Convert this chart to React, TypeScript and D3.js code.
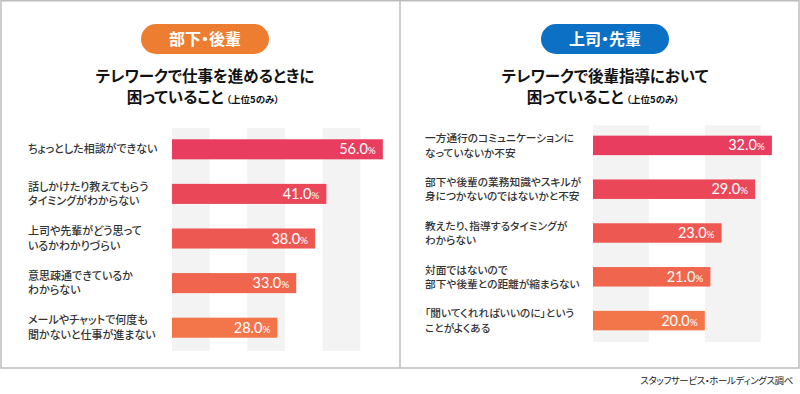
import React from "react";
import * as d3 from "d3";

const leftBadge = "部下・後輩";
const leftTitle1 = "テレワークで仕事を進めるときに";
const leftTitle2 = "困っていること";
const rightBadge = "上司・先輩";
const rightTitle1 = "テレワークで後輩指導において";
const rightTitle2 = "困っていること";
const subNote = "（上位5のみ）";
const credit = "スタッフサービス・ホールディングス調べ";

const leftLabels: string[][] = [
  ["ちょっとした相談ができない"],
  ["話しかけたり教えてもらう", "タイミングがわからない"],
  ["上司や先輩がどう思って", "いるかわかりづらい"],
  ["意思疎通できているか", "わからない"],
  ["メールやチャットで何度も", "聞かないと仕事が進まない"],
];
const leftValues = [56.0, 41.0, 38.0, 33.0, 28.0];

const rightLabels: string[][] = [
  ["一方通行のコミュニケーションに", "なっていないか不安"],
  ["部下や後輩の業務知識やスキルが", "身につかないのではないかと不安"],
  ["教えたり、指導するタイミングが", "わからない"],
  ["対面ではないので", "部下や後輩との距離が縮まらない"],
  ["「聞いてくれればいいのに」という", "ことがよくある"],
];
const rightValues = [32.0, 29.0, 23.0, 21.0, 20.0];

const barColors = ["#E83D5E", "#EA4858", "#EE5852", "#F0654E", "#F2764A"];
const leftStripes = [[0, 10], [20, 30], [40, 50]];
const rightStripes = [[0, 10], [20, 30]];

const JP = "'Noto Sans CJK JP', 'Noto Sans', sans-serif";
const NUM = "Lato, 'Open Sans', sans-serif";
const PALT = { fontFeatureSettings: '"palt"' } as React.CSSProperties;

type PanelProps = {
  labels: string[][];
  values: number[];
  stripes: number[][];
  x: d3.ScaleLinear<number, number>;
  y: d3.ScaleBand<number>;
  labelX: number;
  labelSize: number;
  stripeTop: number;
  stripeBottom: number;
};

function Panel({ labels, values, stripes, x, y, labelX, labelSize, stripeTop, stripeBottom }: PanelProps) {
  return (
    <g>
      {stripes.map(([a, b], i) => (
        <rect key={"s" + i} x={x(a)} y={stripeTop} width={x(b) - x(a)} height={stripeBottom - stripeTop} fill="#F3F3F4" />
      ))}
      {values.map((v, i) => {
        const yy = y(i)!;
        const bw = y.bandwidth();
        const cy = yy + bw / 2;
        const lines = labels[i];
        return (
          <g key={"b" + i}>
            <rect x={x(0)} y={yy} width={x(v) - x(0)} height={bw} fill={barColors[i]} />
            <text x={x(v) - 7} y={cy + 5} textAnchor="end" fill="#fff" fontFamily={NUM}>
              <tspan fontSize={14.5}>{v.toFixed(1)}</tspan>
              <tspan fontSize={10}>%</tspan>
            </text>
            {lines.map((t, j) => (
              <text key={j} x={labelX} y={cy + (j - (lines.length - 1) / 2) * 14.5 + 4} fontSize={labelSize} fontWeight={500} fill="#333" fontFamily={JP} style={PALT}>
                {t}
              </text>
            ))}
          </g>
        );
      })}
    </g>
  );
}

function Header({ cx, badge, color, t1, t2 }: { cx: number; badge: string; color: string; t1: string; t2: string }) {
  return (
    <g fontFamily={JP} style={PALT}>
      <rect x={cx - 64} y={24} width={128} height={30} rx={15} fill={color} />
      <text x={cx} y={45} textAnchor="middle" fill="#fff" fontSize={16} fontWeight={700}>{badge}</text>
      <text x={cx} y={82} textAnchor="middle" fill="#111" fontSize={15.5} fontWeight={700}>{t1}</text>
      <text x={cx - 2} y={103} textAnchor="middle" fill="#111" fontWeight={700}>
        <tspan fontSize={15.5}>{t2}</tspan>
        <tspan fontSize={9.5} dx={3}>{subNote}</tspan>
      </text>
    </g>
  );
}

export default function App() {
  const idx = d3.range(5);
  const xL = d3.scaleLinear().domain([0, 50]).range([172, 172 + 50 * 3.765]);
  const yL = d3.scaleBand<number>().domain(idx).range([127, 350]).paddingInner(0.55).paddingOuter(0.275);
  const xR = d3.scaleLinear().domain([0, 30]).range([593, 593 + 30 * 5.59]);
  const yR = d3.scaleBand<number>().domain(idx).range([123.5, 342.5]).paddingInner(0.555).paddingOuter(0.2775);

  return (
    <>
      <style>{`body{margin:0}`}</style>
      <svg width={800} height={394} style={{ display: "block", background: "#fff" }}>
        <rect x={1} y={0.75} width={798} height={367.25} fill="#fff" stroke="#BDBDBD" strokeWidth={1.5} />
        <line x1={400} x2={400} y1={0} y2={368} stroke="#BDBDBD" strokeWidth={1.5} />
        <Header cx={205} badge={leftBadge} color="#EC7D31" t1={leftTitle1} t2={leftTitle2} />
        <Header cx={605} badge={rightBadge} color="#0C70C4" t1={rightTitle1} t2={rightTitle2} />
        <Panel labels={leftLabels} values={leftValues} stripes={leftStripes} x={xL} y={yL} labelX={28} labelSize={11} stripeTop={128} stripeBottom={351} />
        <Panel labels={rightLabels} values={rightValues} stripes={rightStripes} x={xR} y={yR} labelX={425} labelSize={10.7} stripeTop={125.5} stripeBottom={342} />
        <text x={793} y={384} textAnchor="end" fontSize={9.5} letterSpacing={-0.4} fill="#222" fontFamily={JP} style={PALT}>{credit}</text>
      </svg>
    </>
  );
}
